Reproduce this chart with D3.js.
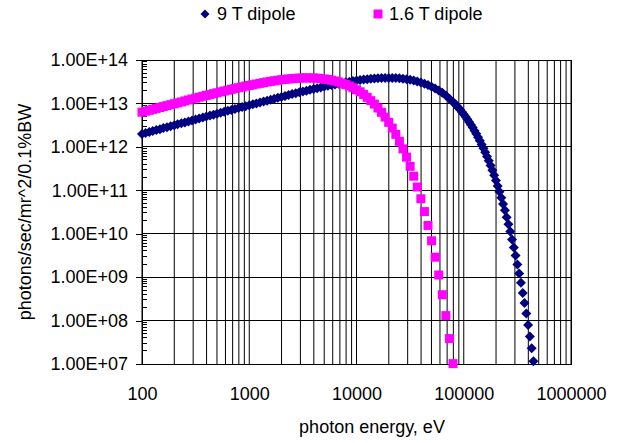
<!DOCTYPE html>
<html>
<head>
<meta charset="utf-8">
<script src="https://cdn.jsdelivr.net/npm/d3@7"></script>
<style>
  body { margin: 0; background: #fff; }
  text { font-family: "Liberation Sans", Arial, sans-serif; }
</style>
</head>
<body>
<div id="chart"></div>
<script>
// photon energies (eV), shared by both series up to ~79 keV
const energyGrid = [
  100, 108, 117, 126, 136, 147, 158, 171, 185, 200,
  215, 233, 251, 271, 293, 316, 341, 369, 398, 430,
  464, 501, 541, 584, 631, 681, 736, 794, 858, 926,
  1000, 1080, 1166, 1259, 1359, 1468, 1585, 1711, 1848, 1995,
  2154, 2326, 2512, 2712, 2929, 3162, 3415, 3687, 3981, 4299,
  4642, 5012, 5412, 5843, 6310, 6813, 7356, 7943, 8577, 9261,
  10000, 10800, 11660, 12590, 13590, 14680, 15850, 17110, 18480, 19950,
  21540, 23260, 25120, 27120, 29290, 31620, 34150, 36870, 39810, 42990,
  46420, 50120, 54120, 58430, 63100, 68130, 73560, 79430
];
// extra energies for the 9 T tail
const energyTail9T = [
  82540, 85770, 89130, 92610, 96240, 100000, 103910, 107980, 112200, 116590,
  121150, 125890, 130820, 135940, 141250, 146780, 152520, 158490, 164690, 171130,
  177830, 184780, 192010, 199530, 207340, 215440, 223870, 232630, 241730, 251190,
  261020, 271230, 281840, 292860, 304320, 316230, 328600, 341460, 354810, 368690,
  383120, 398110, 413680, 429870, 446680
];

const flux9T = [
  1.99e12, 2.09e12, 2.20e12, 2.31e12, 2.44e12, 2.56e12, 2.70e12, 2.84e12, 2.99e12, 3.15e12,
  3.31e12, 3.48e12, 3.66e12, 3.85e12, 4.06e12, 4.27e12, 4.49e12, 4.72e12, 4.98e12, 5.24e12,
  5.51e12, 5.79e12, 6.10e12, 6.41e12, 6.75e12, 7.08e12, 7.45e12, 7.83e12, 8.24e12, 8.65e12,
  9.10e12, 9.55e12, 1.00e13, 1.05e13, 1.11e13, 1.16e13, 1.22e13, 1.28e13, 1.35e13, 1.41e13,
  1.49e13, 1.56e13, 1.64e13, 1.71e13, 1.80e13, 1.88e13, 1.97e13, 2.06e13, 2.15e13, 2.25e13,
  2.34e13, 2.44e13, 2.54e13, 2.64e13, 2.74e13, 2.84e13, 2.95e13, 3.06e13, 3.16e13, 3.27e13,
  3.37e13, 3.46e13, 3.54e13, 3.61e13, 3.69e13, 3.76e13, 3.80e13, 3.84e13, 3.86e13, 3.87e13,
  3.86e13, 3.84e13, 3.78e13, 3.71e13, 3.61e13, 3.49e13, 3.37e13, 3.21e13, 3.03e13, 2.84e13,
  2.64e13, 2.43e13, 2.21e13, 1.99e13, 1.75e13, 1.52e13, 1.29e13, 1.08e13,
  9.82e12, 8.89e12, 7.98e12, 7.14e12, 6.38e12, 5.62e12, 4.95e12, 4.35e12, 3.76e12, 3.25e12,
  2.79e12, 2.36e12, 2.00e12, 1.67e12, 1.38e12, 1.14e12, 9.33e11, 7.48e11, 6.01e11, 4.78e11,
  3.72e11, 2.88e11, 2.22e11, 1.67e11, 1.25e11, 9.31e10, 6.71e10, 4.84e10, 3.45e10, 2.38e10,
  1.65e10, 1.12e10, 7.38e9, 4.84e9, 3.13e9, 1.95e9, 1.21e9, 7.41e8, 4.32e8, 2.53e8,
  1.45e8, 7.89e7, 4.30e7, 2.29e7, 1.15e7
];

const flux16T = [
  6.28e12, 6.61e12, 6.93e12, 7.29e12, 7.67e12, 8.07e12, 8.47e12, 8.91e12, 9.35e12, 9.84e12,
  1.03e13, 1.08e13, 1.14e13, 1.20e13, 1.26e13, 1.32e13, 1.39e13, 1.46e13, 1.53e13, 1.60e13,
  1.68e13, 1.76e13, 1.85e13, 1.93e13, 2.02e13, 2.11e13, 2.21e13, 2.30e13, 2.40e13, 2.50e13,
  2.59e13, 2.70e13, 2.80e13, 2.90e13, 3.01e13, 3.12e13, 3.22e13, 3.33e13, 3.42e13, 3.51e13,
  3.58e13, 3.66e13, 3.73e13, 3.78e13, 3.83e13, 3.86e13, 3.87e13, 3.86e13, 3.85e13, 3.81e13,
  3.74e13, 3.66e13, 3.55e13, 3.42e13, 3.28e13, 3.12e13, 2.92e13, 2.73e13, 2.52e13, 2.30e13,
  2.07e13, 1.85e13, 1.61e13, 1.38e13, 1.16e13, 9.66e12, 7.85e12, 6.24e12, 4.85e12, 3.67e12,
  2.71e12, 1.94e12, 1.34e12, 8.97e11, 5.79e11, 3.56e11, 2.11e11, 1.19e11, 6.38e10, 3.23e10,
  1.55e10, 6.87e9, 2.88e9, 1.12e9, 3.94e8, 1.30e8, 3.85e7, 1.02e7
];

const seriesNames = ["9 T dipole", "1.6 T dipole"];
const seriesColors = ["#000080", "#ff00ff"];
const xTicks = [100, 1000, 10000, 100000, 1000000];
const yTicks = [1e7, 1e8, 1e9, 1e10, 1e11, 1e12, 1e13, 1e14];
const yTickLabels = ["1.00E+07", "1.00E+08", "1.00E+09", "1.00E+10", "1.00E+11", "1.00E+12", "1.00E+13", "1.00E+14"];

const margin = {top: 60, right: 50, bottom: 79, left: 142};
const width = 621 - margin.left - margin.right,
      height = 443 - margin.top - margin.bottom;

const svg = d3.select("#chart").append("svg")
  .attr("width", 621)
  .attr("height", 443);

const g = svg.append("g")
  .attr("transform", `translate(${margin.left},${margin.top})`);

const xScale = d3.scaleLog().domain([100, 1000000]).range([0, width]);
const yScale = d3.scaleLog().domain([1e7, 1e14]).range([height, 0]);

// grid: every 1..9 multiple on x, decades only on y
g.append("g").selectAll("line")
  .data(xScale.ticks())
  .join("line")
  .attr("x1", d => xScale(d)).attr("x2", d => xScale(d))
  .attr("y1", 0).attr("y2", height)
  .attr("stroke", "#000").attr("stroke-width", 1);

g.append("g").selectAll("line")
  .data(yTicks)
  .join("line")
  .attr("x1", 0).attr("x2", width)
  .attr("y1", d => yScale(d)).attr("y2", d => yScale(d))
  .attr("stroke", "#000").attr("shape-rendering", "crispEdges");

// minor y ticks inside the plot
g.append("g").selectAll("line")
  .data(yScale.ticks().filter(d => !yTicks.includes(d)))
  .join("line")
  .attr("x1", 0).attr("x2", 5)
  .attr("y1", d => yScale(d)).attr("y2", d => yScale(d))
  .attr("stroke", "#000").attr("shape-rendering", "crispEdges");

g.append("rect")
  .attr("width", width).attr("height", height)
  .attr("fill", "none").attr("stroke", "#000")
  .attr("shape-rendering", "crispEdges");

const yAxis = d3.axisLeft(yScale)
  .tickValues(yTicks)
  .tickFormat((d, i) => yTickLabels[i])
  .tickSize(6).tickPadding(8);
g.append("g").attr("class", "axis-y").call(yAxis)
  .call(a => a.select(".domain").remove())
  .call(a => a.selectAll("line").attr("shape-rendering", "crispEdges"))
  .call(a => a.selectAll("text").attr("font-size", 18).attr("fill", "#000")
    .style("font-family", "'Liberation Sans', Arial, sans-serif"));

const xAxis = d3.axisBottom(xScale)
  .tickValues(xTicks)
  .tickFormat(d3.format("d"))
  .tickSize(0).tickPadding(23);
g.append("g").attr("class", "axis-x")
  .attr("transform", `translate(0,${height})`)
  .call(xAxis)
  .call(a => a.select(".domain").remove())
  .call(a => a.selectAll("text").attr("font-size", 18).attr("fill", "#000")
    .style("font-family", "'Liberation Sans', Arial, sans-serif"));

// axis titles
svg.append("text")
  .attr("x", 372).attr("y", 433)
  .attr("text-anchor", "middle").attr("font-size", 18)
  .text("photon energy, eV");

svg.append("text")
  .attr("transform", `translate(31,${margin.top + height / 2}) rotate(-90)`)
  .attr("text-anchor", "middle").attr("font-size", 18)
  .text("photons/sec/mr^2/0.1%BW");

// series
const series = [
  {name: seriesNames[0], color: seriesColors[0], shape: "diamond",
   points: energyGrid.concat(energyTail9T).map((e, i) => ({e, f: flux9T[i]}))},
  {name: seriesNames[1], color: seriesColors[1], shape: "square",
   points: energyGrid.map((e, i) => ({e, f: flux16T[i]}))}
];

function markerPath(shape, r) {
  if (shape === "diamond") return `M0,${-r}L${r},0L0,${r}L${-r},0Z`;
  return `M${-r},${-r}H${r}V${r}H${-r}Z`;
}

series.forEach(s => {
  g.append("g").selectAll("path")
    .data(s.points)
    .join("path")
    .attr("transform", d => `translate(${xScale(d.e)},${yScale(d.f)})`)
    .attr("d", markerPath(s.shape, s.shape === "diamond" ? 5 : 4.5))
    .attr("fill", s.color);
});

// legend
const legendItems = [{x: 205, tx: 217}, {x: 378, tx: 389}];
const legend = svg.append("g");
series.forEach((s, i) => {
  legend.append("path")
    .attr("transform", `translate(${legendItems[i].x},14)`)
    .attr("d", markerPath(s.shape, s.shape === "diamond" ? 4.5 : 4.5))
    .attr("fill", s.color);
  legend.append("text")
    .attr("x", legendItems[i].tx).attr("y", 20)
    .attr("font-size", 18)
    .text(s.name);
});
</script>
</body>
</html>
